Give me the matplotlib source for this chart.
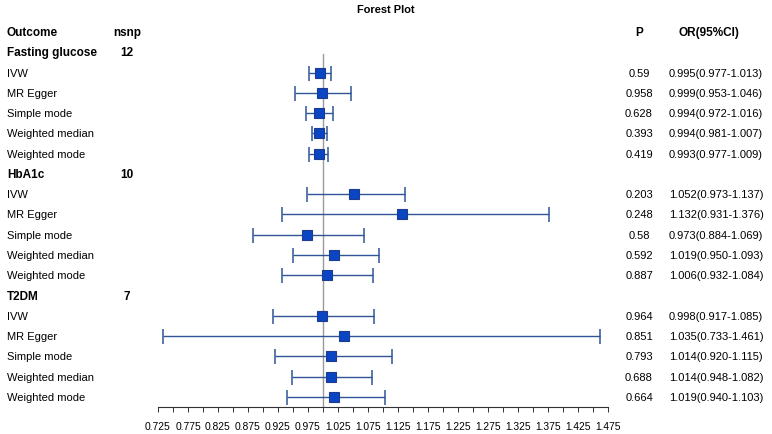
import matplotlib.pyplot as plt
import matplotlib.transforms as mtransforms
from matplotlib.ticker import FixedLocator

# --- DATA ---
outcomes = ["Fasting glucose", "HbA1c", "T2DM"]
nsnp = [12, 10, 7]
methods = ["IVW", "MR Egger", "Simple mode", "Weighted median", "Weighted mode"]

or_vals = [
    [0.995, 0.999, 0.994, 0.994, 0.993],
    [1.052, 1.132, 0.973, 1.019, 1.006],
    [0.998, 1.035, 1.014, 1.014, 1.019],
]
ci_low = [
    [0.977, 0.953, 0.972, 0.981, 0.977],
    [0.973, 0.931, 0.884, 0.950, 0.932],
    [0.917, 0.733, 0.920, 0.948, 0.940],
]
ci_high = [
    [1.013, 1.046, 1.016, 1.007, 1.009],
    [1.137, 1.376, 1.069, 1.093, 1.084],
    [1.085, 1.461, 1.115, 1.082, 1.103],
]
p_vals = [
    ["0.59", "0.958", "0.628", "0.393", "0.419"],
    ["0.203", "0.248", "0.58", "0.592", "0.887"],
    ["0.964", "0.851", "0.793", "0.688", "0.664"],
]

# --- STYLE ---
plt.rcParams["font.family"] = ["Liberation Sans", "DejaVu Sans"]
FS = 8.0      # regular text
FSB = 8.5     # bold text
W, H = 772, 435
ROW0, ROWH = 33, 20.27          # pixel y of header row, row height
X_LEFT, X_RIGHT = 158, 608      # pixel x of 0.725 and 1.475

fig = plt.figure(figsize=(W / 100, H / 100), dpi=100)
n_rows = 1 + len(outcomes) * (1 + len(methods))
y_top = ROW0 - 0.5 * ROWH
y_bot = ROW0 + (n_rows - 0.5) * ROWH
ax = fig.add_axes([X_LEFT / W, 1 - y_bot / H, (X_RIGHT - X_LEFT) / W, (y_bot - y_top) / H])
ax.set_xlim(0.725, 1.475)
ax.set_ylim(n_rows - 0.5, -0.5)

for s in ["top", "right", "left"]:
    ax.spines[s].set_visible(False)
ax.spines["bottom"].set_color("#333333")
ax.spines["bottom"].set_linewidth(0.8)
ax.set_yticks([])
ax.xaxis.set_major_locator(FixedLocator([0.725 + 0.05 * k for k in range(16)]))
ax.xaxis.set_minor_locator(FixedLocator([0.75 + 0.05 * k for k in range(15)]))
ax.xaxis.set_major_formatter(plt.FormatStrFormatter("%.3f"))
ax.tick_params(axis="x", which="both", direction="out", length=3.8, width=0.7,
               color="#333333", labelsize=7.4, pad=6.5)

# figure-x / data-y transform for the text columns
tr = mtransforms.blended_transform_factory(fig.transFigure, ax.transData)

def fx(px):
    return px / W

# header
ax.text(fx(7), 0, "Outcome", transform=tr, fontsize=FSB, fontweight="bold", va="center")
ax.text(fx(127), 0, "nsnp", transform=tr, fontsize=FSB, fontweight="bold", va="center", ha="center")
ax.text(fx(639), 0, "P", transform=tr, fontsize=FSB, fontweight="bold", va="center", ha="center")
ax.text(fx(709), 0, "OR(95%CI)", transform=tr, fontsize=FSB, fontweight="bold", va="center", ha="center")
fig.text(0.5, 1 - 10 / H, "Forest Plot", fontsize=7.9, fontweight="bold", ha="center", va="center")

row = 1
for g, name in enumerate(outcomes):
    ax.text(fx(7), row, name, transform=tr, fontsize=FSB, fontweight="bold", va="center")
    ax.text(fx(127), row, str(nsnp[g]), transform=tr, fontsize=FSB, fontweight="bold",
            va="center", ha="center")
    row += 1
    for m, meth in enumerate(methods):
        est, lo, hi = or_vals[g][m], ci_low[g][m], ci_high[g][m]
        ax.text(fx(7), row, meth, transform=tr, fontsize=FS, va="center")
        ax.text(fx(639), row, p_vals[g][m], transform=tr, fontsize=FS, va="center", ha="center")
        ax.text(fx(669), row, f"{est:.3f}({lo:.3f}-{hi:.3f})", transform=tr,
                fontsize=FS, va="center")
        ax.errorbar(est, row, xerr=[[est - lo], [hi - est]], fmt="none",
                    ecolor="#2f5597", elinewidth=1.0, capsize=5.4, capthick=1.1, zorder=3)
        ax.plot(est, row, marker="s", markersize=7.8, markerfacecolor="#0a45c4",
                markeredgecolor="#1d3c8c", markeredgewidth=0.8, zorder=4)
        row += 1

# reference line at OR = 1
ax.plot([1, 1], [1.1, n_rows - 0.5], color="#9a9a9a", linewidth=1.0, zorder=2, clip_on=False)

fig.savefig("out.png", dpi=100)
